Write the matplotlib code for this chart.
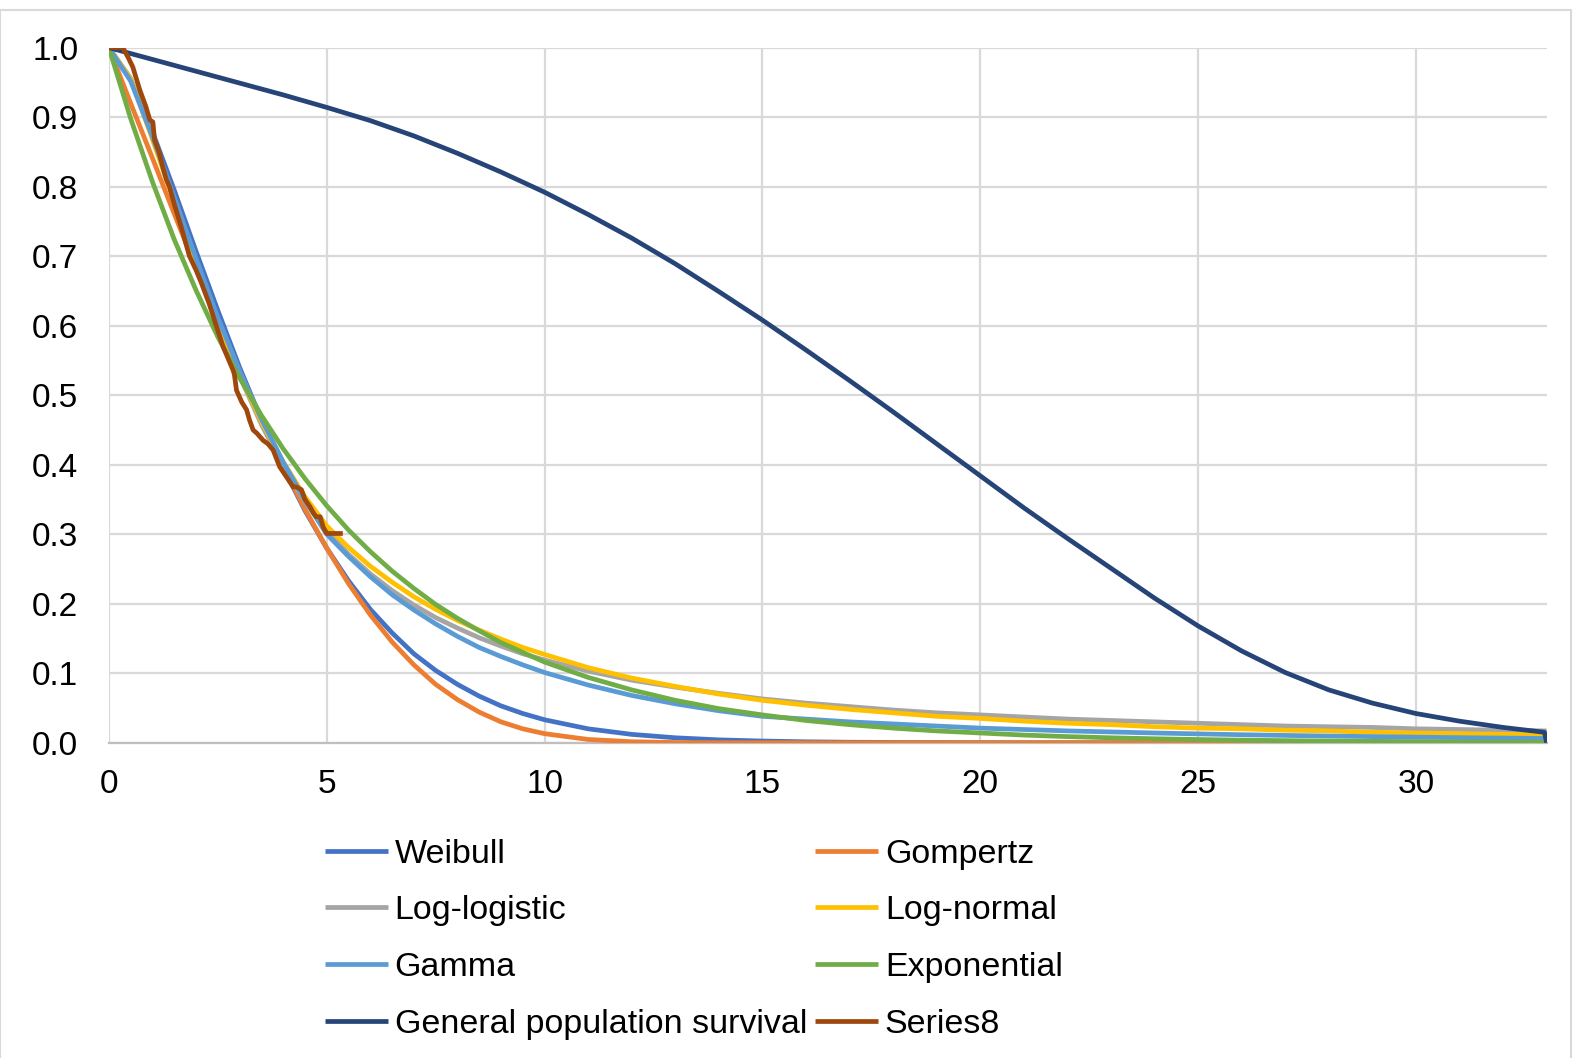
import matplotlib
matplotlib.use("Agg")
import matplotlib.pyplot as plt
from matplotlib.patches import Rectangle

plt.rcParams['font.family'] = ['Liberation Sans', 'DejaVu Sans']

# time grid (years)
t = [0, 0.5, 1, 1.5, 2, 2.5, 3, 3.5, 4, 4.5, 5, 5.5, 6, 6.5, 7, 7.5, 8, 8.5, 9, 9.5,
     10, 11, 12, 13, 14, 15, 16, 17, 18, 19, 20, 21, 22, 23, 24, 25, 26, 27, 28, 29,
     30, 31, 32, 33]

weibull = [1.0, 0.953, 0.879, 0.795, 0.707, 0.622, 0.540, 0.465, 0.396, 0.334, 0.280,
           0.233, 0.192, 0.158, 0.128, 0.104, 0.084, 0.067, 0.053, 0.042,
           0.033, 0.020, 0.012, 0.0071, 0.0041, 0.0024, 0.0013, 0.0007, 0.0004, 0.0002,
           0.0001, 0.0, 0.0, 0.0, 0.0, 0.0, 0.0, 0.0, 0.0, 0.0, 0.0, 0.0, 0.0, 0.0]

gompertz = [1.0, 0.920, 0.841, 0.761, 0.683, 0.607, 0.534, 0.464, 0.398, 0.336, 0.280,
            0.229, 0.184, 0.145, 0.112, 0.084, 0.062, 0.044, 0.030, 0.020,
            0.013, 0.0047, 0.0014, 0.0003, 0.0, 0.0, 0.0, 0.0, 0.0, 0.0,
            0.0, 0.0, 0.0, 0.0, 0.0, 0.0, 0.0, 0.0, 0.0, 0.0, 0.0, 0.0, 0.0, 0.0]

log_logistic = [1.0, 0.956, 0.873, 0.780, 0.690, 0.605, 0.528, 0.458, 0.398, 0.347, 0.305,
                0.271, 0.243, 0.219, 0.198, 0.180, 0.165, 0.151, 0.139, 0.128,
                0.119, 0.103, 0.090, 0.080, 0.071, 0.063, 0.057, 0.052, 0.047, 0.043,
                0.040, 0.037, 0.034, 0.032, 0.030, 0.028, 0.026, 0.024, 0.023, 0.022,
                0.020, 0.019, 0.018, 0.017]

log_normal = [1.0, 0.955, 0.868, 0.778, 0.690, 0.605, 0.530, 0.462, 0.404, 0.354, 0.312,
              0.281, 0.254, 0.231, 0.210, 0.192, 0.176, 0.162, 0.149, 0.137,
              0.127, 0.108, 0.093, 0.081, 0.070, 0.061, 0.054, 0.048, 0.043, 0.038,
              0.035, 0.031, 0.028, 0.026, 0.023, 0.021, 0.020, 0.018, 0.017, 0.015,
              0.014, 0.013, 0.012, 0.011]

gamma = [1.0, 0.952, 0.872, 0.785, 0.697, 0.612, 0.535, 0.466, 0.404, 0.349, 0.300,
         0.268, 0.239, 0.213, 0.191, 0.171, 0.153, 0.137, 0.124, 0.112,
         0.101, 0.083, 0.068, 0.056, 0.046, 0.038, 0.034, 0.030, 0.027, 0.024,
         0.021, 0.019, 0.017, 0.0155, 0.014, 0.0127, 0.0115, 0.0105, 0.0096, 0.0088,
         0.008, 0.0073, 0.0067, 0.006]

exponential = [1.0, 0.898, 0.807, 0.724, 0.651, 0.584, 0.525, 0.471, 0.423, 0.380, 0.341,
               0.306, 0.275, 0.247, 0.222, 0.199, 0.179, 0.161, 0.144, 0.130,
               0.116, 0.094, 0.076, 0.061, 0.049, 0.040, 0.032, 0.026, 0.021, 0.017,
               0.014, 0.011, 0.0088, 0.0071, 0.0057, 0.0046, 0.0037, 0.003, 0.0024, 0.002,
               0.0016, 0.0013, 0.001, 0.0008]

gen_t = [0, 1, 2, 3, 4, 5, 6, 7, 8, 9, 10, 11, 12, 13, 14, 15, 16, 17, 18, 19, 20,
         21, 22, 23, 24, 25, 26, 27, 28, 29, 30, 31, 32, 32.95, 33]
gen_pop = [1.0, 0.983, 0.966, 0.949, 0.932, 0.914, 0.895, 0.873, 0.848, 0.821, 0.792,
           0.760, 0.726, 0.689, 0.649, 0.608, 0.565, 0.521, 0.476, 0.430, 0.384,
           0.338, 0.294, 0.251, 0.208, 0.168, 0.132, 0.101, 0.076, 0.057, 0.042,
           0.031, 0.022, 0.015, 0.0]

series8_t = [0, 0.32, 0.45, 0.55, 0.71, 0.85, 0.94, 1.01, 1.05, 1.15, 1.25, 1.32, 1.39,
             1.5, 1.66, 1.85, 2.0, 2.12, 2.3, 2.47, 2.62, 2.85, 2.88, 2.93, 3.05, 3.16,
             3.23, 3.31, 3.4, 3.54, 3.65, 3.77, 3.92, 4.07, 4.23, 4.3, 4.42, 4.5, 4.61,
             4.7, 4.76, 4.85, 4.92, 5.0, 5.37]
series8_s = [1.0, 1.0, 0.985, 0.972, 0.939, 0.915, 0.896, 0.893, 0.867, 0.850, 0.825,
             0.810, 0.800, 0.775, 0.742, 0.700, 0.680, 0.662, 0.632, 0.599, 0.570,
             0.536, 0.530, 0.507, 0.490, 0.479, 0.464, 0.450, 0.445, 0.435, 0.430,
             0.421, 0.397, 0.383, 0.368, 0.368, 0.364, 0.350, 0.340, 0.330, 0.325,
             0.325, 0.310, 0.301, 0.301]

labels = ["Weibull", "Gompertz", "Log-logistic", "Log-normal", "Gamma",
          "Exponential", "General population survival", "Series8"]
colors = ["#4472C4", "#ED7D31", "#A5A5A5", "#FFC000", "#5B9BD5",
          "#70AD47", "#264478", "#9E480E"]

fig = plt.figure(figsize=(15.8, 10.58), dpi=100)
ax = fig.add_axes([0.0689, 0.298, 0.910, 0.657])

lw = 3.4
series = [(t, weibull), (t, gompertz), (t, log_logistic), (t, log_normal),
          (t, gamma), (t, exponential), (gen_t, gen_pop), (series8_t, series8_s)]
handles = []
for (xs, ys), lab, col in zip(series, labels, colors):
    h, = ax.plot(xs, ys, color=col, lw=lw, label=lab, solid_joinstyle='round',
                 solid_capstyle='butt', zorder=3)
    handles.append(h)

ax.set_xlim(0, 33)
ax.set_ylim(0, 1.0)
ax.set_xticks([0, 5, 10, 15, 20, 25, 30])
ax.set_yticks([i / 10 for i in range(11)])
ax.set_yticklabels([f"{i/10:.1f}" for i in range(11)])
ax.grid(True, color="#D9D9D9", lw=1.6, zorder=0)
ax.set_axisbelow(True)
for s in ["top", "right", "left"]:
    ax.spines[s].set_visible(False)
ax.spines["bottom"].set_color("#BFBFBF")
ax.spines["bottom"].set_linewidth(1.6)
ax.tick_params(axis="both", length=0, labelsize=24, colors="#000000")
ax.tick_params(axis="y", pad=22)
ax.tick_params(axis="x", pad=19)

order = [0, 2, 4, 6, 1, 3, 5, 7]
leg = fig.legend([handles[i] for i in order], [labels[i] for i in order],
                 loc="upper left", bbox_to_anchor=(0.197, 0.2203), ncol=2,
                 frameon=False, fontsize=24.5, handlelength=1.85, handletextpad=0.2,
                 columnspacing=0.24, labelspacing=0.76, borderaxespad=0.0)

fig.patches.append(Rectangle((0.0, -0.005), 0.994, 0.9955, transform=fig.transFigure,
                             fill=False, edgecolor="#D9D9D9", lw=1.5))

fig.savefig("out.png", dpi=100)
